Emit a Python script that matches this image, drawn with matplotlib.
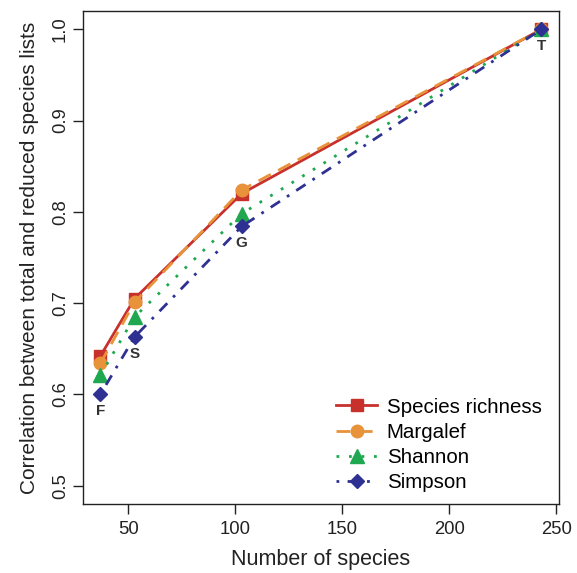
import matplotlib
matplotlib.use('Agg')
import matplotlib.pyplot as plt

plt.rcParams['font.family'] = ['Liberation Sans', 'DejaVu Sans']

# number of species in each list (F, S, G, T)
n_species = [37, 53, 103, 243]
point_labels = ['F', 'S', 'G', 'T']

richness = [0.642, 0.705, 0.820, 1.0]
margalef = [0.634, 0.701, 0.824, 1.0]
shannon = [0.621, 0.685, 0.798, 1.0]
simpson = [0.600, 0.663, 0.784, 1.0]

fig = plt.figure(figsize=(5.77, 5.73), dpi=100)
ax = fig.add_axes([0.1433, 0.1204, 0.8257, 0.8604])

ax.plot(n_species, richness, color='#C8312B', ls='-', lw=2, marker='s', ms=9,
        label='Species richness', zorder=3)
ax.plot(n_species, margalef, color='#E8923A', ls=(0, (5, 3)), lw=2, marker='o', ms=9,
        label='Margalef', zorder=4)
ax.plot(n_species, shannon, color='#1FA84F', ls=(0, (1, 3.5)), lw=2, marker='^', ms=10,
        label='Shannon', zorder=5)
ax.plot(n_species, simpson, color='#2E3192', ls=(0, (1, 3, 4, 3)), lw=2, marker='D', ms=7.5,
        label='Simpson', zorder=6)

# letters under the lowest point
for x, y, t in zip(n_species, simpson, point_labels):
    ax.annotate(t, (x, y), xytext=(0, -12), textcoords='offset points',
                ha='center', va='center', fontsize=11, fontweight='bold', color='#333333')

ax.set_xlim(28.76, 251.24)
ax.set_ylim(0.48, 1.02)
ax.set_xticks([50, 100, 150, 200, 250])
ax.set_yticks([0.5, 0.6, 0.7, 0.8, 0.9, 1.0])
ax.set_yticklabels(['0.5', '0.6', '0.7', '0.8', '0.9', '1.0'], rotation=90, va='center')
ax.tick_params(direction='out', length=7, width=1, labelsize=13.3, colors='#222222', pad=5)
ax.tick_params(axis='y', pad=3)
for s in ax.spines.values():
    s.set_linewidth(1)
    s.set_color('#222222')

ax.set_xlabel('Number of species', fontsize=15.5, color='#222222', labelpad=8)
ax.set_ylabel('Correlation between total and reduced species lists', fontsize=15,
              color='#222222', labelpad=9)

ax.legend(loc='lower right', bbox_to_anchor=(1.019, -0.030), frameon=False,
          fontsize=14.8, handlelength=2.0, handletextpad=0.45, labelspacing=0.3,
          borderaxespad=0.9)

fig.savefig('out.png', dpi=100)
